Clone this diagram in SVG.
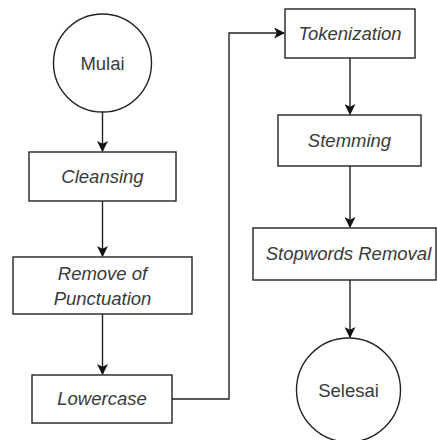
<svg xmlns="http://www.w3.org/2000/svg" width="437" height="440" viewBox="0 0 437 440">
<defs>
<style>
.box{fill:#fff;stroke:#222;stroke-width:1.4}
.t{font-family:"Liberation Sans",Arial,sans-serif;font-size:18.5px;fill:#3a3a3a;text-anchor:middle;dominant-baseline:central}
.i{font-style:italic}
.c{fill:none;stroke:#222;stroke-width:1.4}
</style>
<marker id="ah" viewBox="0 0 10 10" refX="9" refY="5" markerWidth="11" markerHeight="11" markerUnits="userSpaceOnUse" orient="auto">
<path d="M0,0 L10,5 L0,10 L2.5,5 Z" fill="#111"/>
</marker>
</defs>
<rect width="437" height="440" fill="#fff"/>
<g id="connectors">
<path class="c" d="M102.5,112 V151" marker-end="url(#ah)"/>
<path class="c" d="M102.5,201 V256" marker-end="url(#ah)"/>
<path class="c" d="M102.5,314 V374" marker-end="url(#ah)"/>
<path class="c" d="M172,399 H229 V33 H284" marker-end="url(#ah)"/>
<path class="c" d="M350,58 V114" marker-end="url(#ah)"/>
<path class="c" d="M350,166 V227" marker-end="url(#ah)"/>
<path class="c" d="M350,280 V337" marker-end="url(#ah)"/>
</g>
<g id="mulai">
<circle class="box" cx="102.5" cy="63" r="49"/>
<text class="t" x="102.5" y="63">Mulai</text>
</g>
<g id="cleansing">
<rect class="box" x="29" y="152" width="147" height="49"/>
<text class="t i" x="102.5" y="176.5">Cleansing</text>
</g>
<g id="punctuation">
<rect class="box" x="13" y="257" width="179" height="57"/>
<text class="t i" x="102.5" y="273">Remove of</text>
<text class="t i" x="102.5" y="298">Punctuation</text>
</g>
<g id="lowercase">
<rect class="box" x="32" y="375" width="140" height="48"/>
<text class="t i" x="102" y="398">Lowercase</text>
</g>
<g id="tokenization">
<rect class="box" x="285" y="9" width="130" height="49"/>
<text class="t i" x="350" y="33">Tokenization</text>
</g>
<g id="stemming">
<rect class="box" x="278" y="115" width="143" height="51"/>
<text class="t i" x="349.5" y="140">Stemming</text>
</g>
<g id="stopwords">
<rect class="box" x="253" y="228" width="183" height="52"/>
<text class="t i" x="348.5" y="253">Stopwords Removal</text>
</g>
<g id="selesai">
<circle class="box" cx="348.5" cy="390" r="52"/>
<text class="t" x="348.5" y="390">Selesai</text>
</g>
</svg>
